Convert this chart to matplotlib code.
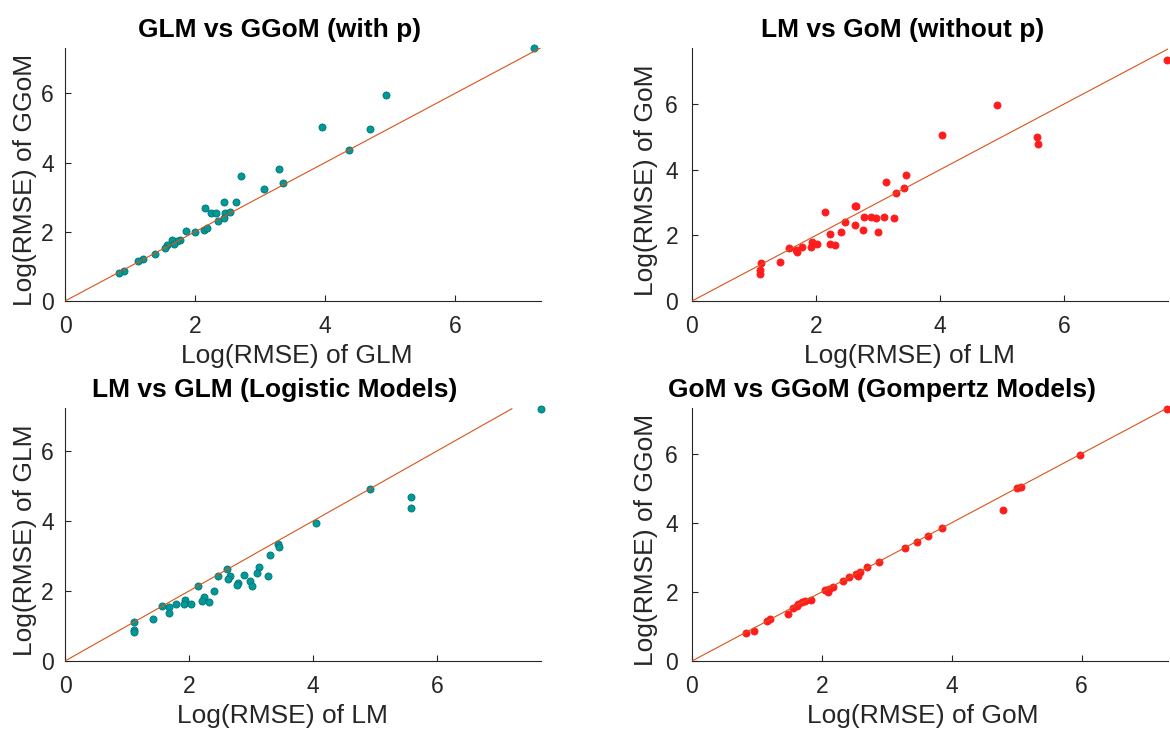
import numpy as np
import matplotlib
matplotlib.use('Agg')
import matplotlib.pyplot as plt

plt.rcParams['font.family'] = ['Liberation Sans', 'DejaVu Sans']

#--- GLM vs GGoM (with p)
glm_a = [7.22, 4.94, 3.95, 4.69, 4.37, 3.29, 2.70, 3.36, 3.06, 2.44, 2.63, 2.16, 2.25,
         2.32, 2.46, 2.53, 2.44, 2.35, 1.86, 2.00, 2.14, 2.18, 1.77, 1.72, 1.65, 1.67,
         1.57, 1.54, 1.38, 1.20, 1.13, 0.91, 0.83]
ggom_a = [7.30, 5.94, 5.02, 4.98, 4.37, 3.82, 3.61, 3.42, 3.25, 2.86, 2.86, 2.68, 2.55,
          2.53, 2.53, 2.58, 2.41, 2.31, 2.02, 2.00, 2.04, 2.11, 1.75, 1.72, 1.75, 1.64,
          1.62, 1.52, 1.35, 1.20, 1.15, 0.88, 0.81]

#--- LM vs GoM (without p)
lm_b = [7.66, 4.92, 4.03, 5.56, 5.58, 3.45, 3.12, 3.42, 3.29, 2.15, 2.62, 2.65, 2.46,
        2.62, 2.77, 2.88, 2.97, 3.10, 3.25, 2.76, 2.99, 2.40, 2.23, 2.22, 2.31, 2.02,
        1.94, 1.91, 1.77, 1.68, 1.69, 1.56, 1.42, 1.11, 1.10, 1.10]
gom_b = [7.32, 5.98, 5.06, 5.00, 4.77, 3.85, 3.61, 3.44, 3.28, 2.70, 2.88, 2.88, 2.41,
         2.32, 2.55, 2.55, 2.52, 2.57, 2.52, 2.16, 2.11, 2.09, 2.03, 1.74, 1.70, 1.74,
         1.81, 1.63, 1.65, 1.56, 1.48, 1.60, 1.19, 1.15, 0.95, 0.81]

#--- LM vs GLM (Logistic Models)
lm_c = [7.68, 4.92, 5.58, 5.58, 4.05, 3.43, 3.45, 3.30, 2.62, 2.66, 2.63, 2.47, 2.88,
        3.13, 3.09, 3.27, 2.99, 3.01, 2.79, 2.78, 2.15, 2.41, 2.24, 2.21, 2.33, 1.94,
        1.92, 2.03, 1.79, 1.68, 1.57, 1.68, 1.42, 1.12, 1.11, 1.11]
glm_c = [7.21, 4.92, 4.69, 4.36, 3.94, 3.35, 3.27, 3.03, 2.62, 2.43, 2.34, 2.43, 2.45,
         2.69, 2.51, 2.44, 2.30, 2.13, 2.23, 2.17, 2.15, 1.99, 1.84, 1.72, 1.69, 1.75,
         1.64, 1.63, 1.63, 1.54, 1.56, 1.36, 1.19, 1.11, 0.89, 0.82]

#--- GoM vs GGoM (Gompertz Models)
gom_d = [7.32, 5.98, 5.06, 5.01, 4.79, 3.85, 3.63, 3.46, 3.28, 2.88, 2.70, 2.58, 2.53,
         2.56, 2.42, 2.33, 2.17, 2.11, 2.05, 2.09, 1.83, 1.74, 1.69, 1.64, 1.61, 1.55,
         1.48, 1.20, 1.16, 0.95, 0.83]
ggom_d = [7.30, 5.95, 5.03, 5.00, 4.37, 3.85, 3.62, 3.44, 3.27, 2.87, 2.71, 2.57, 2.53,
          2.45, 2.42, 2.32, 2.14, 2.08, 2.04, 2.00, 1.76, 1.75, 1.70, 1.65, 1.60, 1.53,
          1.36, 1.22, 1.17, 0.88, 0.81]

titles = ["GLM vs GGoM (with p)", "LM vs GoM (without p)",
          "LM vs GLM (Logistic Models)", "GoM vs GGoM (Gompertz Models)"]
xlabels = ["Log(RMSE) of GLM", "Log(RMSE) of LM", "Log(RMSE) of LM", "Log(RMSE) of GoM"]
ylabels = ["Log(RMSE) of GGoM", "Log(RMSE) of GoM", "Log(RMSE) of GLM", "Log(RMSE) of GGoM"]
xmax = [7.32, 7.67, 7.68, 7.33]
ymax = [7.31, 7.70, 7.23, 7.32]
diag_end = [7.31, 7.67, 7.21, 7.33]
ticks = [0, 2, 4, 6]

TEAL = '#009999'
TEAL_EDGE = '#007373'
RED = '#ff1c1c'
ORANGE = '#d95319'
DARK = '#262626'

W, H = 1170, 729
fig = plt.figure(figsize=(W / 100, H / 100), dpi=100)

# axes boxes in pixels: left, top, right, bottom
boxes = [(65, 48, 541, 301), (692, 48, 1168, 301),
         (65, 408, 541, 661), (692, 408, 1168, 661)]
title_cx = [280, 903, 275, 882]
xlabel_cx = [297, 909, 282, 923]
ylabel_bx = [32, 653, 32, 653]
ytick_pad = [8, 10, 8, 10]

series = [(glm_a, ggom_a, TEAL, TEAL_EDGE), (lm_b, gom_b, RED, RED),
          (lm_c, glm_c, TEAL, TEAL_EDGE), (gom_d, ggom_d, RED, RED)]

for i, (l, t, r, b) in enumerate(boxes):
    ax = fig.add_axes([l / W, 1 - b / H, (r - l) / W, (b - t) / H])
    xs, ys, fc, ec = series[i]
    ax.scatter(xs, ys, s=26, c=fc, edgecolors=ec, linewidths=0.6, zorder=2, clip_on=False)
    ax.plot([0, diag_end[i]], [0, diag_end[i]], color=ORANGE, lw=0.8, zorder=3)
    ax.set_xlim(0, xmax[i])
    ax.set_ylim(0, ymax[i])
    ax.set_xticks(ticks)
    ax.set_yticks(ticks)
    for s in ['top', 'right']:
        ax.spines[s].set_visible(False)
    for s in ['left', 'bottom']:
        ax.spines[s].set_color(DARK)
        ax.spines[s].set_linewidth(0.8)
    ax.tick_params(axis='both', direction='in', length=4, width=0.8, colors=DARK,
                   labelsize=16.5)
    ax.tick_params(axis='x', pad=10.2)
    ax.tick_params(axis='y', pad=ytick_pad[i])

    aw, ah = r - l, b - t
    ax.text((title_cx[i] - l) / aw, 1 + 11 / ah, titles[i], transform=ax.transAxes,
            ha='center', va='baseline', fontsize=19, fontweight='bold', color='black')
    ax.set_xlabel(xlabels[i], fontsize=19, color=DARK, va='baseline')
    ax.xaxis.set_label_coords((xlabel_cx[i] - l) / aw, -62 / ah)
    ax.set_ylabel(ylabels[i], fontsize=19, color=DARK, va='baseline')
    ax.yaxis.set_label_coords((ylabel_bx[i] - l) / aw, 0.478)

fig.savefig("out.png", dpi=100)
